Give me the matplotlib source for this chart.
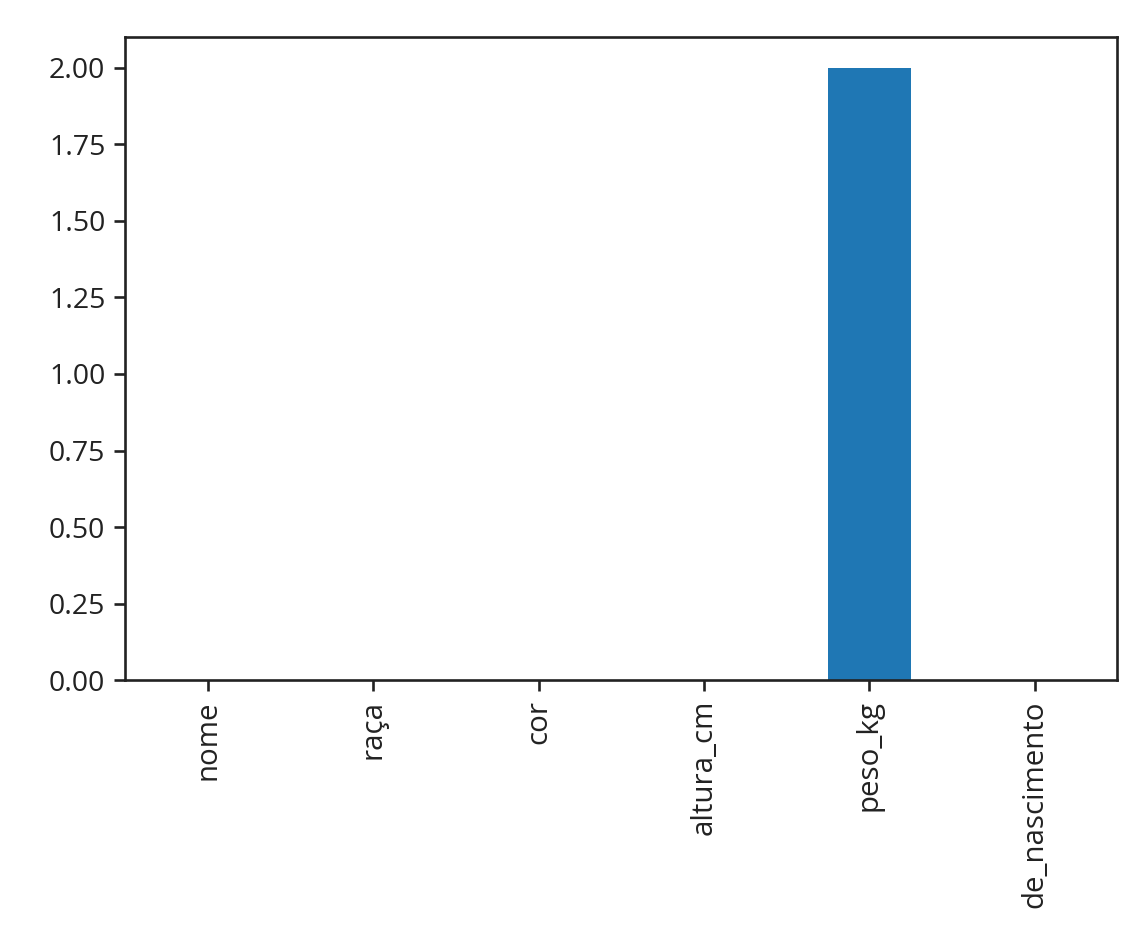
import matplotlib
matplotlib.use("Agg")
import matplotlib.pyplot as plt
import numpy as np

# missing values per column
colunas = ["nome", "raça", "cor", "altura_cm", "peso_kg", "de_nascimento"]
nulos = [0, 0, 0, 0, 2, 0]

plt.rcParams["font.family"] = ["Open Sans", "DejaVu Sans"]
plt.rcParams["axes.linewidth"] = 1.0
plt.rcParams["axes.edgecolor"] = "#222222"

DPI = 190
fig = plt.figure(figsize=(1139 / DPI, 928 / DPI), dpi=DPI)
ax = fig.add_axes([0.110, 0.267, 0.871, 0.693])

x = np.arange(len(colunas))
ax.bar(x, nulos, width=0.5, color="#1f77b4")
ax.set_xlim(-0.5, len(colunas) - 0.5)
ax.set_ylim(0, 2.1)
ax.set_yticks(np.arange(0, 2.01, 0.25))
ax.set_yticklabels([f"{v:.2f}" for v in np.arange(0, 2.01, 0.25)])
ax.set_xticks(x)
ax.set_xticklabels(colunas, rotation=90)
ax.tick_params(axis="x", labelsize=11.2, colors="#222222")
ax.tick_params(axis="y", labelsize=10.8, colors="#222222")
ax.tick_params(width=1.0, length=4)

fig.savefig("out.png", dpi=DPI)
